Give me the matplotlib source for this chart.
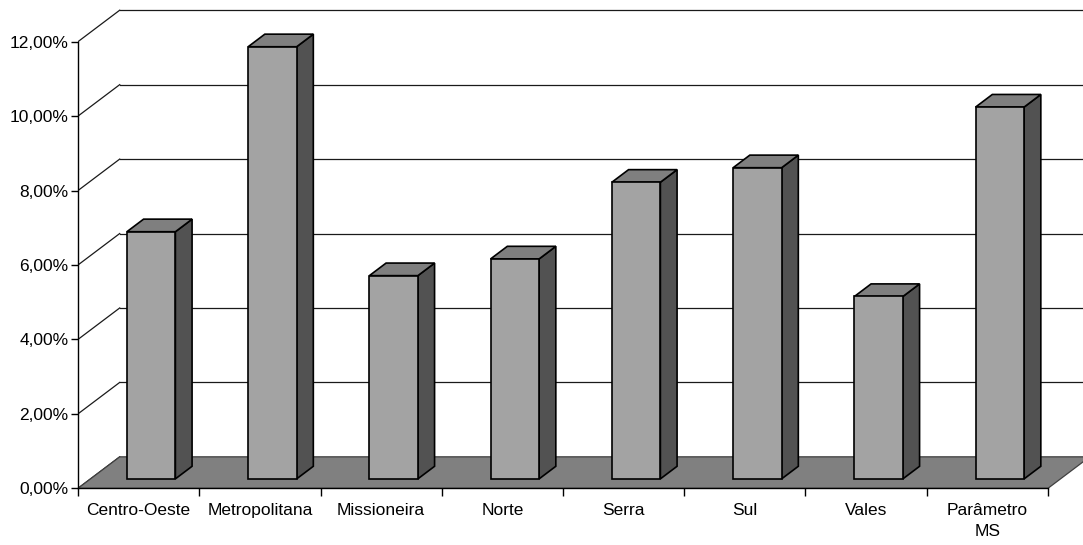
import matplotlib
matplotlib.use("Agg")
import matplotlib.pyplot as plt
from matplotlib.patches import Polygon
import numpy as np

categories = ["Centro-Oeste", "Metropolitana", "Missioneira", "Norte",
              "Serra", "Sul", "Vales", "Parâmetro\nMS"]
values = [6.64, 11.61, 5.46, 5.91, 7.97, 8.36, 4.90, 9.99]
yticks = [0, 2, 4, 6, 8, 10, 12]
ytick_labels = ["0,00%", "2,00%", "4,00%", "6,00%", "8,00%", "10,00%", "12,00%"]

plt.rcParams['font.family'] = ['Liberation Sans', 'DejaVu Sans']

W, H = 1083, 545
fig = plt.figure(figsize=(W / 100, H / 100), dpi=100)
x0_px, y0_px = 78, 488.3
px_per_cat = 121.25
px_per_val = 37.22
xmax = (W - x0_px) / px_per_cat
ymax = y0_px / px_per_val
ax = fig.add_axes([x0_px / W, (H - y0_px) / H, (W - x0_px) / W, y0_px / H])
ax.set_xlim(0, xmax)
ax.set_ylim(0, ymax)

DX, DY = 0.344, 0.845    # full depth offset in data units
n = len(categories)
line_c = '#1a1a1a'

# back wall gridlines + left wall diagonals
for v in yticks:
    ax.plot([DX, xmax + 1], [v + DY, v + DY], color=line_c, lw=0.9, zorder=1)
    ax.plot([0, DX], [v, v + DY], color=line_c, lw=0.9, zorder=1)

# floor
floor = Polygon([(0, 0), (n, 0), (n + DX, DY), (DX, DY)], closed=True,
                facecolor='#808080', edgecolor='#404040', lw=0.9, zorder=2)
ax.add_patch(floor)

# bars
f0, f1 = 0.3, 0.7
bw = 0.4
centers = np.arange(n) + 0.5
ax.bar(centers + f0 * DX, values, width=bw, bottom=f0 * DY,
       color='#A3A3A3', edgecolor='black', linewidth=1.2, zorder=5)
for c, v in zip(centers, values):
    xl = c - bw / 2 + f0 * DX
    xr = c + bw / 2 + f0 * DX
    yb = f0 * DY
    yt = v + f0 * DY
    ddx = (f1 - f0) * DX
    ddy = (f1 - f0) * DY
    side = Polygon([(xr, yb), (xr + ddx, yb + ddy), (xr + ddx, yt + ddy), (xr, yt)],
                   closed=True, facecolor='#525252', edgecolor='black', lw=1.2, zorder=4)
    top = Polygon([(xl, yt), (xr, yt), (xr + ddx, yt + ddy), (xl + ddx, yt + ddy)],
                  closed=True, facecolor='#7F7F7F', edgecolor='black', lw=1.2, zorder=4)
    ax.add_patch(side)
    ax.add_patch(top)

# axes
for s in ['top', 'right']:
    ax.spines[s].set_visible(False)
ax.spines['left'].set_bounds(0, 12)
ax.spines['bottom'].set_bounds(0, n)
ax.spines['left'].set_linewidth(1.0)
ax.spines['bottom'].set_linewidth(1.0)
ax.spines['left'].set_zorder(6)
ax.spines['bottom'].set_zorder(6)

ax.set_yticks(yticks)
ax.set_yticklabels(ytick_labels, fontsize=12.5)
ax.tick_params(axis='y', direction='out', length=5, width=1, pad=2)

ax.set_xticks(np.arange(n + 1))
ax.set_xticklabels([''] * (n + 1))
ax.tick_params(axis='x', which='major', direction='out', length=5.5, width=1)
ax.set_xticks(centers, minor=True)
ax.set_xticklabels(categories, minor=True, fontsize=12.5, linespacing=1.55)
ax.tick_params(axis='x', which='minor', length=0, pad=10.5)

fig.savefig("out.png", dpi=100)
